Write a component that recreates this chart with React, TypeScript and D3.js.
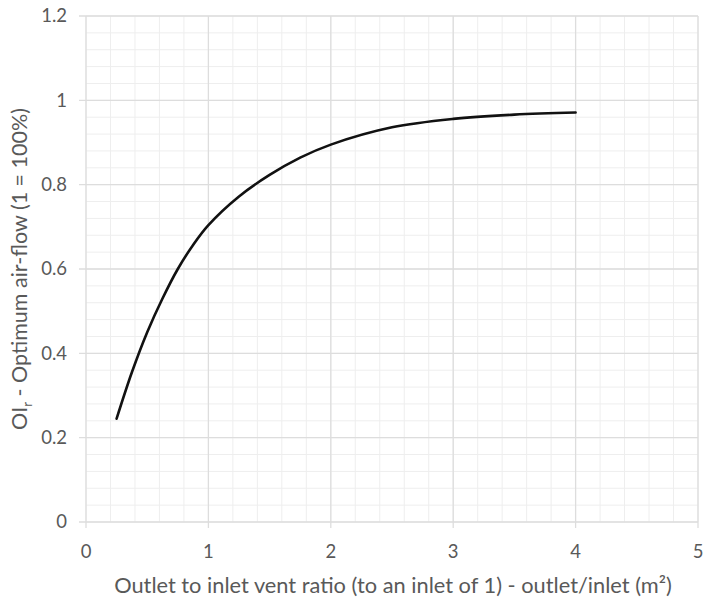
import { useRef, useEffect } from 'react';
import * as d3 from 'd3';

const WIDTH = 703;
const HEIGHT = 599;

// curve
const ratio = [0.25, 0.375, 0.5, 0.625, 0.75, 0.875, 1, 1.25, 1.5, 1.75, 2, 2.5, 3, 3.5, 4];
const airflow = [0.245, 0.355, 0.45, 0.53, 0.6, 0.657, 0.704, 0.772, 0.823, 0.864, 0.895, 0.936, 0.956, 0.966, 0.971];

const xTicks = [0, 1, 2, 3, 4, 5];
const yTicks = [0, 0.2, 0.4, 0.6, 0.8, 1, 1.2];

const X_TITLE = 'Outlet to inlet vent ratio (to an inlet of 1) - outlet/inlet (m²)';

const LEFT = 86;
const RIGHT = 698;
const TOP = 16;
const BOTTOM = 522;
const FONT = 'Lato, "Open Sans", sans-serif';
const TEXT = '#595959';

export default function App() {
  const svgRef = useRef<SVGSVGElement>(null);

  useEffect(() => {
    const svg = d3.select(svgRef.current);
    svg.selectAll('*').remove();

    const x = d3.scaleLinear().domain([0, 5]).range([LEFT, RIGHT]);
    const y = d3.scaleLinear().domain([0, 1.2]).range([BOTTOM, TOP]);

    svg.append('rect').attr('width', WIDTH).attr('height', HEIGHT).attr('fill', '#fff');

    // minor grid
    const grid = svg.append('g');
    d3.range(0, 5.0001, 0.2).forEach((v) => {
      grid
        .append('line')
        .attr('x1', x(v))
        .attr('x2', x(v))
        .attr('y1', TOP)
        .attr('y2', BOTTOM)
        .attr('stroke', '#eeeeee')
        .attr('stroke-width', 1);
    });
    d3.range(0, 1.2001, 0.04).forEach((v) => {
      grid
        .append('line')
        .attr('x1', LEFT)
        .attr('x2', RIGHT)
        .attr('y1', y(v))
        .attr('y2', y(v))
        .attr('stroke', '#eeeeee')
        .attr('stroke-width', 1);
    });

    // major grid + ticks
    xTicks.forEach((v) => {
      grid
        .append('line')
        .attr('x1', x(v))
        .attr('x2', x(v))
        .attr('y1', TOP)
        .attr('y2', BOTTOM + 6)
        .attr('stroke', '#dddddd')
        .attr('stroke-width', 1.3);
      svg
        .append('text')
        .attr('x', x(v))
        .attr('y', 558)
        .attr('text-anchor', 'middle')
        .attr('font-family', FONT)
        .attr('font-size', 18.5)
        .attr('fill', TEXT)
        .text(String(v));
    });
    yTicks.forEach((v) => {
      grid
        .append('line')
        .attr('x1', LEFT - 7)
        .attr('x2', RIGHT)
        .attr('y1', y(v))
        .attr('y2', y(v))
        .attr('stroke', '#dddddd')
        .attr('stroke-width', 1.3);
      svg
        .append('text')
        .attr('x', 67)
        .attr('y', y(v))
        .attr('dy', '0.35em')
        .attr('text-anchor', 'end')
        .attr('font-family', FONT)
        .attr('font-size', 18.5)
        .attr('fill', TEXT)
        .text(d3.format('~g')(v));
    });

    // curve
    const line = d3
      .line<number>()
      .x((_, i) => x(ratio[i]))
      .y((d) => y(d))
      .curve(d3.curveCatmullRom.alpha(0.5));
    svg
      .append('path')
      .attr('d', line(airflow))
      .attr('fill', 'none')
      .attr('stroke', '#111')
      .attr('stroke-width', 2.6)
      .attr('stroke-linecap', 'round');

    // axis titles
    svg
      .append('text')
      .attr('x', 393)
      .attr('y', 593)
      .attr('text-anchor', 'middle')
      .attr('font-family', FONT)
      .attr('font-size', 21.8)
      .attr('fill', TEXT)
      .text(X_TITLE);

    const yt = svg
      .append('text')
      .attr('transform', `translate(27,${(TOP + BOTTOM) / 2}) rotate(-90)`)
      .attr('text-anchor', 'middle')
      .attr('font-family', FONT)
      .attr('font-size', 21.5)
      .attr('fill', TEXT);
    yt.append('tspan').text('OI');
    yt.append('tspan').attr('font-size', 13).attr('dy', 5).text('r');
    yt.append('tspan').attr('dy', -5).text(' - Optimum air-flow (1 = 100%)');
  }, []);

  return (
    <svg
      ref={svgRef}
      width={WIDTH}
      height={HEIGHT}
      style={{ position: 'absolute', left: 0, top: 0, display: 'block' }}
    />
  );
}
